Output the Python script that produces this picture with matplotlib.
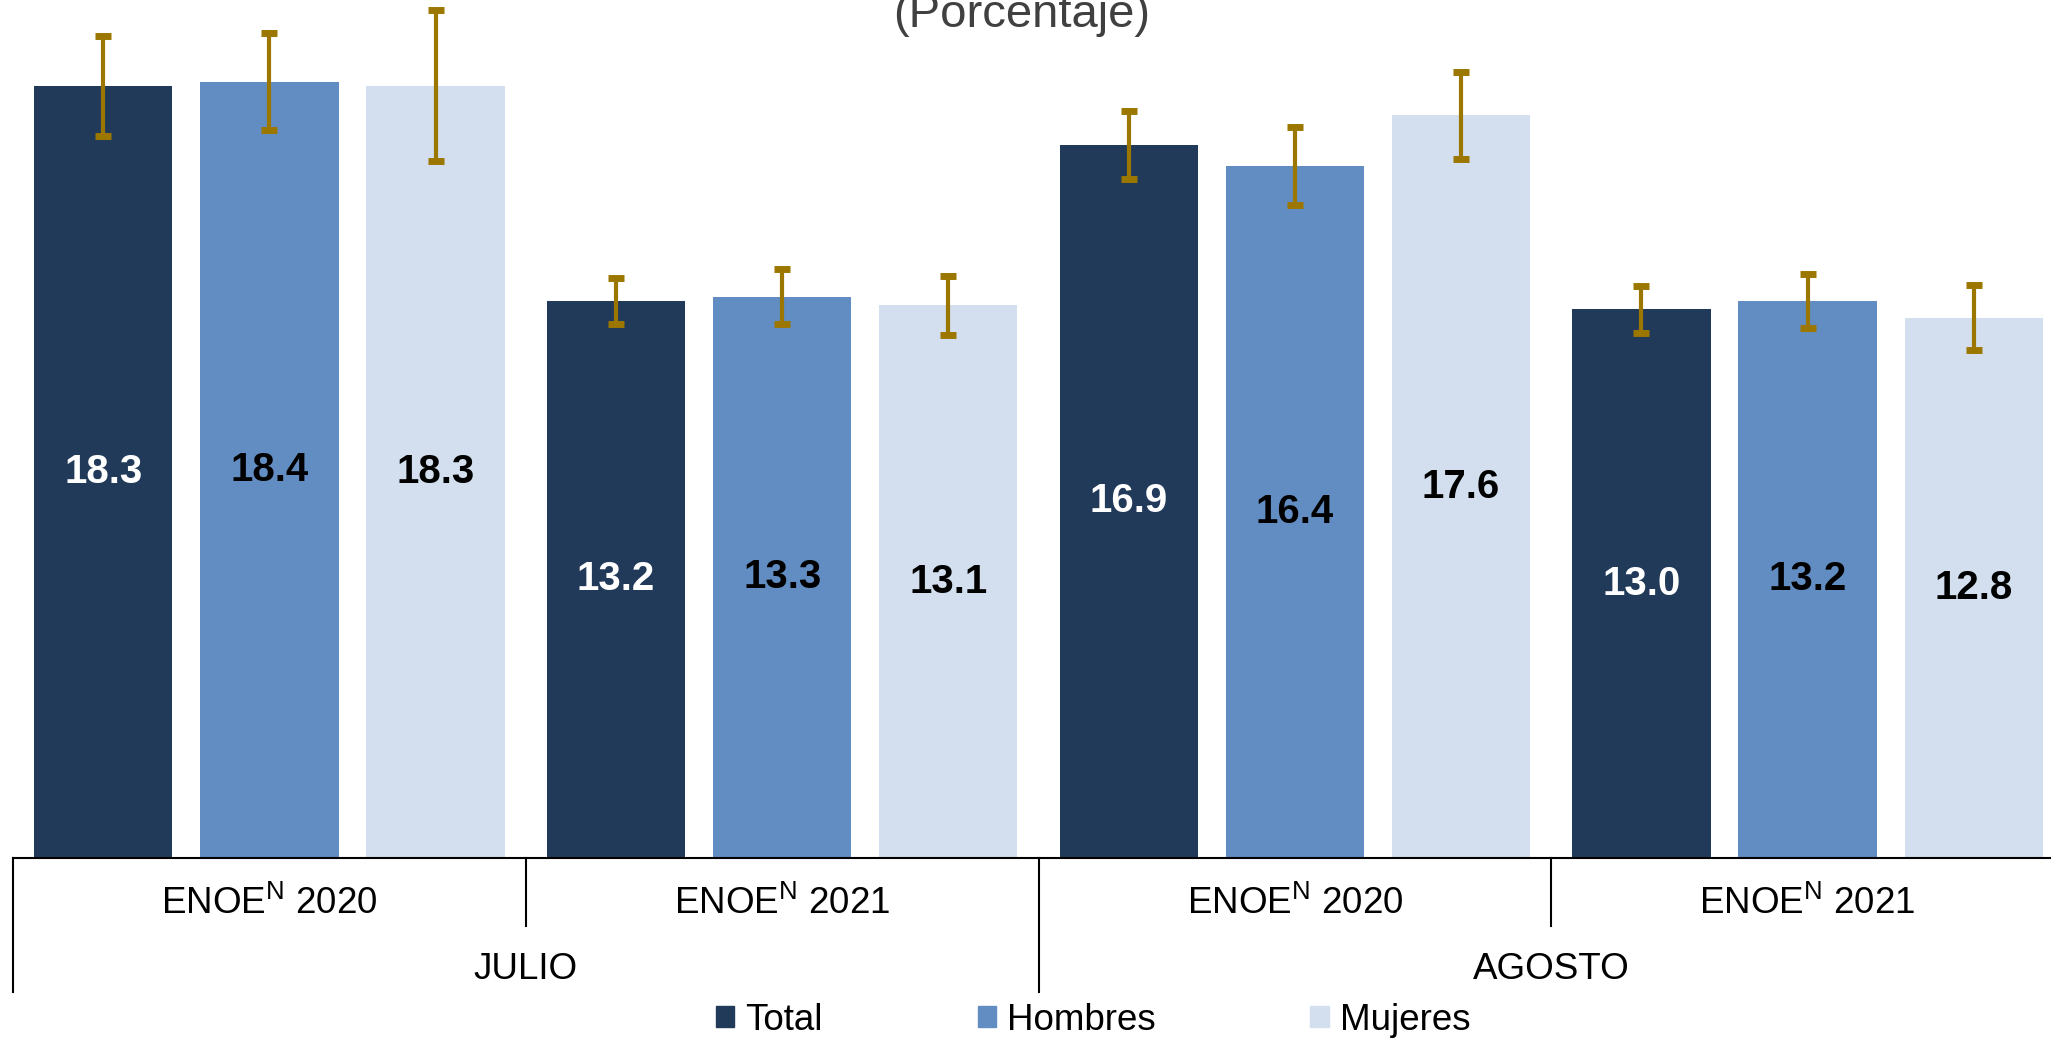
import numpy as np
import matplotlib.pyplot as plt
from matplotlib.patches import Patch

plt.rcParams['font.family'] = ['Liberation Sans', 'DejaVu Sans']
plt.rcParams['mathtext.fontset'] = 'custom'
plt.rcParams['mathtext.rm'] = 'Liberation Sans'

# datos
meses = ['JULIO', 'AGOSTO']
encuestas = ['ENOE$^{\\mathrm{N}}$ 2020', 'ENOE$^{\\mathrm{N}}$ 2021',
             'ENOE$^{\\mathrm{N}}$ 2020', 'ENOE$^{\\mathrm{N}}$ 2021']
series = ['Total', 'Hombres', 'Mujeres']
total = [18.3, 13.2, 16.9, 13.0]
hombres = [18.4, 13.3, 16.4, 13.2]
mujeres = [18.3, 13.1, 17.6, 12.8]
# semiamplitud de los intervalos de confianza
total_err = [1.18, 0.54, 0.80, 0.56]
hombres_err = [1.15, 0.65, 0.93, 0.63]
mujeres_err = [1.79, 0.70, 1.03, 0.77]

colores = ['#223A5A', '#628DC2', '#D3DFEE']
colores_txt = ['white', 'black', 'black']
color_err = '#9C7700'

fig = plt.figure(figsize=(20.51, 10.43), dpi=100)
ax = fig.add_axes([13 / 2051, 185 / 1043, 1.0, 858 / 1043])

x = np.arange(len(encuestas)) + 0.5
desp = [-0.324, 0, 0.324]
ancho = 0.27

for vals, errs, col, ctxt, d, nombre in zip([total, hombres, mujeres],
                                           [total_err, hombres_err, mujeres_err],
                                           colores, colores_txt, desp, series):
    ax.bar(x + d, vals, width=ancho, color=col, label=nombre)
    ax.errorbar(x + d, vals, yerr=errs, fmt='none', ecolor=color_err,
                elinewidth=3, capsize=6, capthick=5, clip_on=False)
    for xi, v in zip(x + d, vals):
        ax.text(xi, v / 2, f'{v:.1f}', ha='center', va='center',
                fontsize=29, fontweight='bold', color=ctxt)

ax.set_xlim(0, 4)
ax.set_ylim(0, 858 / 42.2)
ax.set_xticks([])
ax.set_yticks([])
for s in ax.spines.values():
    s.set_visible(False)

# eje x con categorias multinivel
tr = ax.get_xaxis_transform()
ax.plot([0, 4], [0, 0], color='black', lw=1.5, transform=tr, clip_on=False)
for xs in [0, 2, 4]:
    ax.plot([xs, xs], [0, -0.156], color='black', lw=1.5, transform=tr, clip_on=False)
for xs in [1, 3]:
    ax.plot([xs, xs], [0, -0.079], color='black', lw=1.5, transform=tr, clip_on=False)
for xi, lab in zip(x, encuestas):
    ax.text(xi, -0.0536, lab, ha='center', va='center', fontsize=26.5, transform=tr)
for xi, lab in zip([1, 3], meses):
    ax.text(xi, -0.1305, lab, ha='center', va='center', fontsize=26.5, transform=tr)

fig.text(1022 / 2051, 1 - 27 / 1043, '(Porcentaje)', ha='center', va='baseline',
         fontsize=34, color='#404040')

handles = [Patch(color=c, label=s) for c, s in zip(colores, series)]
fig.legend(handles=handles, loc='center', bbox_to_anchor=(0.533, 0.022), ncol=3,
           frameon=False, fontsize=26.5, handlelength=0.5, handleheight=0.5,
           handletextpad=0.3, columnspacing=4.2)

fig.savefig('out.png', dpi=100)
